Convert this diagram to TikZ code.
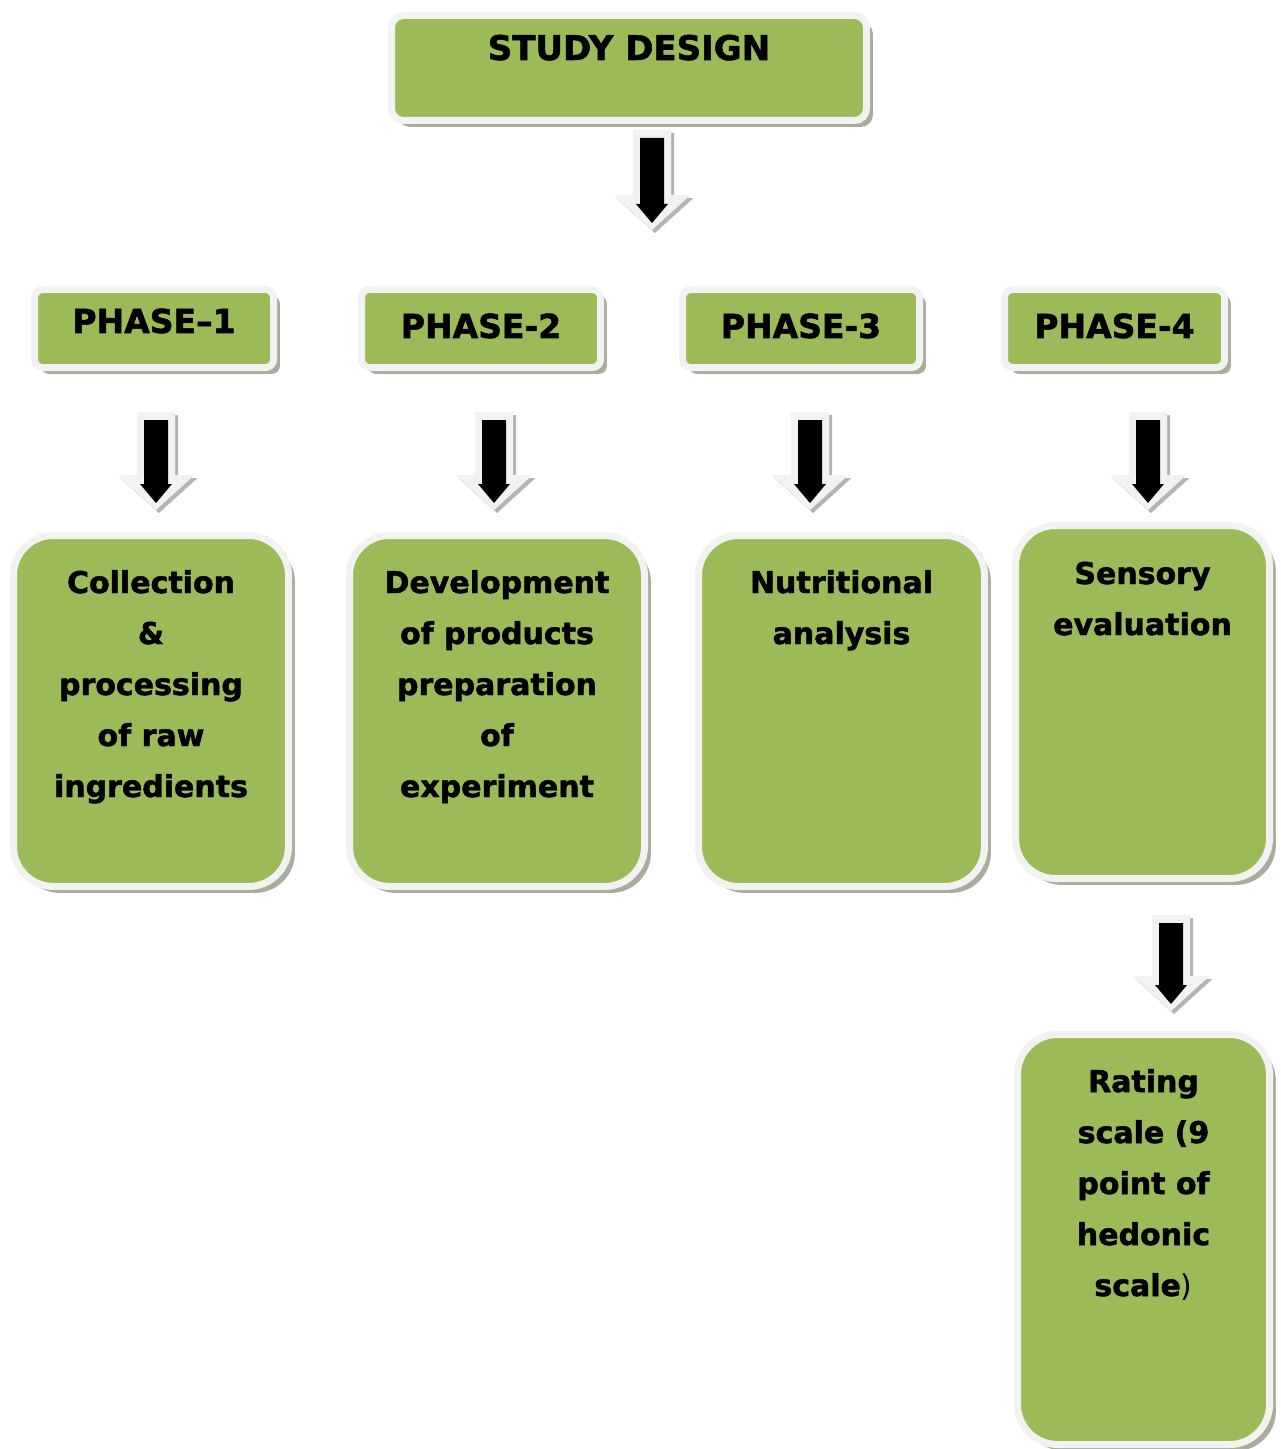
\documentclass[tikz,border=0pt]{standalone}
\usepackage{fontspec}
\setmainfont{DejaVu Sans}[BoldFont={DejaVu Sans Bold}, BoldFeatures={FakeBold=1.6}]
\usetikzlibrary{shadows, calc}

\definecolor{leaf}{HTML}{9BBB59}
\definecolor{rim}{HTML}{F2F2F2}
\definecolor{dropgray}{HTML}{A9AD9B}
\definecolor{arrowshade}{HTML}{B4B4B4}

% width, height, first baseline, lines
\newcommand{\boxtext}[4]{\parbox[c][#2][t]{#1}{\centering\rule{0pt}{#3}#4}}

\tikzset{
  stage/.style={draw=rim, fill=leaf, line width=3.5pt, inner sep=0pt,
    drop shadow={shadow xshift=3.2pt, shadow yshift=-3.2pt, fill=dropgray, opacity=1}},
  headbox/.style={stage, rounded corners=6pt, font=\fontsize{17}{20}\bfseries},
  phasebox/.style={stage, rounded corners=4pt, font=\fontsize{16.5}{20}\bfseries},
  stepbox/.style={stage, rounded corners=20pt, font=\fontsize{15}{25.5}\bfseries},
  pics/blockarrow/.style={code={
    \fill[arrowshade, shift={(3,3)}] (-19,0) -- (19,0) -- (19,#1-35) -- (38.5,#1-35) -- (0,#1) -- (-38.5,#1-35) -- (-19,#1-35) -- cycle;
    \fill[rim] (-19,0) -- (19,0) -- (19,#1-35) -- (38.5,#1-35) -- (0,#1) -- (-38.5,#1-35) -- (-19,#1-35) -- cycle;
    \fill[black] (-12,8) -- (12,8) -- (12,#1-26) -- (16,#1-26) -- (0,#1-7) -- (-16,#1-26) -- (-12,#1-26) -- cycle;
  }}
}

\begin{document}
\begin{tikzpicture}[x=0.5pt, y=-0.5pt]
\useasboundingbox (0,0) rectangle (1280,1449);

% Top box
\node[headbox] (design) at (629,68) {\boxtext{237.5pt}{52.5pt}{22.25pt}{STUDY DESIGN}};

% Phases
\node[phasebox] (phase1) at (154,328.5) {\boxtext{119.5pt}{39pt}{21.75pt}{PHASE–1}};
\node[phasebox] (phase2) at (481,328.5) {\boxtext{119.5pt}{39pt}{24.25pt}{PHASE-2}};
\node[phasebox] (phase3) at (801,328.5) {\boxtext{118.5pt}{39pt}{24.25pt}{PHASE-3}};
\node[phasebox] (phase4) at (1114.5,328.5) {\boxtext{110pt}{39pt}{24.25pt}{PHASE-4}};

% Steps
\node[stepbox] (step1) at (151,711) {\boxtext{137.5pt}{175.5pt}{28.75pt}{Collection\\ \&\\ processing\\ of raw\\ ingredients}};
\node[stepbox] (step2) at (497,711) {\boxtext{147.5pt}{175.5pt}{28.75pt}{Development\\ of products\\ preparation\\ of\\ experiment}};
\node[stepbox] (step3) at (841.5,711) {\boxtext{143pt}{175.5pt}{28.75pt}{Nutritional\\ analysis}};
\node[stepbox] (step4) at (1142.5,702) {\boxtext{127pt}{176.5pt}{29.25pt}{Sensory\\ evaluation}};
\node[stepbox] (step5) at (1143.5,1239.5) {\boxtext{126pt}{205pt}{28.75pt}{Rating\\ scale (9\\ point of\\ hedonic\\ scale{\mdseries)}}};

% Arrows
\pic at ($(design.south)+(23,6)$) {blockarrow=100};
\foreach \p/\dx in {phase1/2, phase2/13, phase3/9, phase4/33.5}
  \pic at ($(\p.south)+(\dx,41)$) {blockarrow=98};
\pic at ($(step4.south)+(28.5,33)$) {blockarrow=96};
\end{tikzpicture}
\end{document}
